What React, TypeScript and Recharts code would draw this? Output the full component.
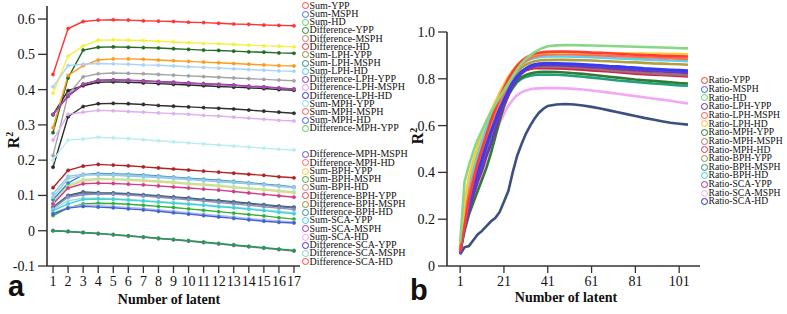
import React from 'react';
import { LineChart, Line, XAxis, YAxis } from 'recharts';

// ---------- Panel a ----------
const latentA = [1, 2, 3, 4, 5, 6, 7, 8, 9, 10, 11, 12, 13, 14, 15, 16, 17];
const ticksAY = [-0.1, 0, 0.1, 0.2, 0.3, 0.4, 0.5, 0.6];

const legendNamesA1 = [
  'Sum-YPP', 'Sum-MSPH', 'Sum-HD', 'Difference-YPP', 'Difference-MSPH', 'Difference-HD',
  'Sum-LPH-YPP', 'Sum-LPH-MSPH', 'Sum-LPH-HD', 'Difference-LPH-YPP', 'Difference-LPH-MSPH',
  'Difference-LPH-HD', 'Sum-MPH-YPP', 'Sum-MPH-MSPH', 'Sum-MPH-HD', 'Difference-MPH-YPP',
];
const legendNamesA2 = [
  'Difference-MPH-MSPH', 'Difference-MPH-HD', 'Sum-BPH-YPP', 'Sum-BPH-MSPH', 'Sum-BPH-HD',
  'Difference-BPH-YPP', 'Difference-BPH-MSPH', 'Difference-BPH-HD', 'Sum-SCA-YPP', 'Sum-SCA-MSPH',
  'Sum-SCA-HD', 'Difference-SCA-YPP', 'Difference-SCA-MSPH', 'Difference-SCA-HD',
];
const legendColorsA1 = [
  '#ff4040', '#4a68f0', '#58d058', '#238a23', '#c07878', '#e03050', '#8a8a30', '#2a8a8a',
  '#40c8f0', '#9030a0', '#f090f0', '#2828e0', '#80e0e0', '#ff5050', '#4060e0', '#50d050',
];
const legendColorsA2 = [
  '#6050c0', '#ff6060', '#ffc830', '#40a040', '#c08080', '#e04060', '#909030', '#309090',
  '#40c8f0', '#a030b0', '#f0a0f0', '#3030e0', '#80d0d0', '#ff4040',
];

// line values (panel a)
const a01 = [0.443, 0.573, 0.593, 0.597, 0.598, 0.597, 0.595, 0.594, 0.593, 0.591, 0.590, 0.588, 0.586, 0.585, 0.583, 0.582, 0.581];
const a02 = [0.390, 0.495, 0.524, 0.540, 0.541, 0.540, 0.539, 0.537, 0.535, 0.533, 0.531, 0.530, 0.528, 0.526, 0.524, 0.523, 0.521];
const a03 = [0.278, 0.433, 0.512, 0.520, 0.521, 0.520, 0.519, 0.518, 0.516, 0.514, 0.512, 0.511, 0.509, 0.507, 0.506, 0.504, 0.503];
const a04 = [0.329, 0.397, 0.411, 0.421, 0.422, 0.421, 0.419, 0.417, 0.415, 0.413, 0.411, 0.409, 0.407, 0.405, 0.403, 0.400, 0.398];
const a05 = [0.292, 0.440, 0.468, 0.484, 0.487, 0.487, 0.486, 0.484, 0.482, 0.480, 0.478, 0.476, 0.474, 0.472, 0.470, 0.468, 0.467];
const a06 = [0.213, 0.386, 0.436, 0.445, 0.447, 0.446, 0.445, 0.443, 0.441, 0.439, 0.437, 0.435, 0.433, 0.431, 0.429, 0.427, 0.425];
const a07 = [0.408, 0.468, 0.472, 0.474, 0.473, 0.472, 0.470, 0.469, 0.467, 0.465, 0.463, 0.461, 0.459, 0.457, 0.455, 0.453, 0.452];
const a08 = [0.329, 0.381, 0.414, 0.427, 0.428, 0.427, 0.425, 0.423, 0.421, 0.419, 0.417, 0.415, 0.413, 0.410, 0.408, 0.405, 0.402];
const a09 = [0.329, 0.384, 0.416, 0.426, 0.427, 0.426, 0.424, 0.422, 0.420, 0.418, 0.416, 0.414, 0.412, 0.409, 0.407, 0.404, 0.401];
const a10 = [0.180, 0.323, 0.352, 0.360, 0.361, 0.360, 0.358, 0.355, 0.353, 0.351, 0.349, 0.347, 0.345, 0.342, 0.339, 0.336, 0.333];
const a11 = [0.257, 0.330, 0.336, 0.341, 0.340, 0.338, 0.336, 0.334, 0.332, 0.330, 0.327, 0.325, 0.322, 0.319, 0.316, 0.313, 0.311];
const a12 = [0.200, 0.257, 0.260, 0.265, 0.263, 0.261, 0.258, 0.255, 0.252, 0.249, 0.246, 0.243, 0.240, 0.237, 0.234, 0.231, 0.229];
const a13 = [0.067, 0.100, 0.110, 0.108, 0.107, 0.105, 0.102, 0.099, 0.096, 0.093, 0.089, 0.086, 0.082, 0.078, 0.074, 0.070, 0.067];
const a14 = [0.122, 0.171, 0.183, 0.188, 0.186, 0.184, 0.181, 0.178, 0.175, 0.172, 0.169, 0.166, 0.163, 0.160, 0.157, 0.153, 0.150];
const a15 = [0.075, 0.125, 0.141, 0.145, 0.145, 0.143, 0.141, 0.138, 0.135, 0.132, 0.129, 0.126, 0.122, 0.119, 0.115, 0.111, 0.107];
const a16 = [0.081, 0.129, 0.145, 0.148, 0.147, 0.146, 0.144, 0.141, 0.138, 0.135, 0.132, 0.129, 0.125, 0.121, 0.118, 0.114, 0.110];
const a17 = [0.066, 0.098, 0.107, 0.106, 0.105, 0.103, 0.100, 0.097, 0.094, 0.091, 0.087, 0.084, 0.080, 0.076, 0.072, 0.068, 0.065];
const a18 = [0.076, 0.121, 0.133, 0.135, 0.134, 0.132, 0.130, 0.127, 0.124, 0.121, 0.118, 0.115, 0.111, 0.107, 0.103, 0.099, 0.095];
const a19 = [0.088, 0.135, 0.159, 0.162, 0.161, 0.160, 0.158, 0.155, 0.152, 0.149, 0.146, 0.143, 0.140, 0.136, 0.132, 0.128, 0.124];
const a20 = [0.105, 0.154, 0.160, 0.158, 0.157, 0.155, 0.153, 0.151, 0.148, 0.145, 0.142, 0.139, 0.136, 0.133, 0.130, 0.126, 0.122];
const a21 = [0.063, 0.095, 0.102, 0.104, 0.103, 0.101, 0.098, 0.095, 0.091, 0.088, 0.084, 0.080, 0.076, 0.072, 0.068, 0.064, 0.060];
const a22 = [0.060, 0.085, 0.092, 0.092, 0.091, 0.089, 0.086, 0.083, 0.080, 0.077, 0.074, 0.070, 0.067, 0.063, 0.059, 0.055, 0.051];
const a23 = [0.057, 0.076, 0.089, 0.090, 0.089, 0.087, 0.084, 0.081, 0.078, 0.075, 0.072, 0.068, 0.065, 0.061, 0.057, 0.052, 0.048];
const a24 = [0.043, 0.065, 0.076, 0.078, 0.077, 0.075, 0.072, 0.069, 0.066, 0.062, 0.058, 0.054, 0.050, 0.046, 0.042, 0.037, 0.033];
const a25 = [0.050, 0.066, 0.072, 0.071, 0.069, 0.066, 0.063, 0.059, 0.055, 0.051, 0.047, 0.043, 0.039, 0.035, 0.031, 0.028, 0.025];
const a26 = [0.048, 0.064, 0.069, 0.067, 0.065, 0.062, 0.059, 0.055, 0.051, 0.047, 0.043, 0.039, 0.035, 0.031, 0.027, 0.024, 0.022];
const a27 = [0.095, 0.148, 0.157, 0.160, 0.159, 0.158, 0.156, 0.153, 0.150, 0.147, 0.144, 0.141, 0.138, 0.134, 0.130, 0.126, 0.123];
const a28 = [0.000, -0.003, -0.006, -0.009, -0.012, -0.016, -0.019, -0.023, -0.026, -0.030, -0.034, -0.038, -0.042, -0.046, -0.050, -0.054, -0.058];
const a29 = [0.000, -0.002, -0.005, -0.008, -0.011, -0.015, -0.018, -0.022, -0.025, -0.029, -0.033, -0.037, -0.041, -0.045, -0.049, -0.053, -0.057];
const a30 = [0.000, -0.002, -0.005, -0.008, -0.011, -0.014, -0.018, -0.021, -0.025, -0.028, -0.032, -0.036, -0.040, -0.044, -0.048, -0.052, -0.056];

const lineColorsA = [
  '#ff3333', '#f5f040', '#1f6b24', '#262626', '#ff9a1a', '#a3a3a3', '#a8d4f8', '#8b2a8b',
  '#a050a8', '#2e2e2e', '#dcb0f0', '#b8eef0', '#2a5a78', '#b22222', '#f0d080', '#b8e8a0',
  '#607090', '#d03c8c', '#2b8cc4', '#88c8f0', '#9090c0', '#a0e0e0', '#40d0d8', '#30b030',
  '#b0b8f0', '#4060d0', '#9ecae1', '#e8a8e8', '#4a7a9a', '#2a9a4a',
];
const valuesA = [a01, a02, a03, a04, a05, a06, a07, a08, a09, a10, a11, a12, a13, a14, a15,
  a16, a17, a18, a19, a20, a21, a22, a23, a24, a25, a26, a27, a28, a29, a30];
const namesA = [...legendNamesA1, ...legendNamesA2];

// ---------- Panel b ----------
const latentB = [1, 3, 5, 7, 9, 11, 13, 15, 17, 19, 21, 23, 25, 27, 29, 31, 33, 35, 37, 39, 41,
  45, 49, 53, 57, 61, 65, 69, 73, 77, 81, 85, 89, 93, 97, 101, 105];
const ticksBX = [1, 21, 41, 61, 81, 101];
const ticksBY = [0, 0.2, 0.4, 0.6, 0.8, 1.0];

const namesB = [
  'Ratio-YPP', 'Ratio-MSPH', 'Ratio-HD', 'Ratio-LPH-YPP', 'Ratio-LPH-MSPH', 'Ratio-LPH-HD',
  'Ratio-MPH-YPP', 'Ratio-MPH-MSPH', 'Ratio-MPH-HD', 'Ratio-BPH-YPP', 'Ratio-BPH-MSPH',
  'Ratio-BPH-HD', 'Ratio-SCA-YPP', 'Ratio-SCA-MSPH', 'Ratio-SCA-HD',
];
const legendColorsB = [
  '#ff3030', '#3060ff', '#60d060', '#6030a0', '#ff5050', '#ffc820', '#208030', '#b07070',
  '#e03060', '#909040', '#209090', '#30d0f0', '#a030b0', '#f8a8f8', '#2020f0',
];
const lineColorsB = [
  '#ff3b3b', '#3a3af0', '#86d886', '#7a30b0', '#ff7050', '#ffc830', '#2e7d32', '#a07070',
  '#d02050', '#b0a040', '#20a080', '#5bd0f0', '#3a5080', '#f2a8f2', '#4848e0',
];

const bYPP = [0.06, 0.17, 0.28, 0.36, 0.44, 0.50, 0.56, 0.62, 0.67, 0.72, 0.76, 0.80, 0.83, 0.855, 0.875, 0.89, 0.90, 0.907, 0.911, 0.914, 0.915,
  0.916, 0.916, 0.915, 0.914, 0.912, 0.911, 0.909, 0.907, 0.905, 0.903, 0.901, 0.900, 0.898, 0.897, 0.896, 0.895];
const bMSPH = [0.06, 0.20, 0.27, 0.34, 0.40, 0.46, 0.52, 0.57, 0.62, 0.67, 0.71, 0.75, 0.785, 0.81, 0.83, 0.845, 0.856, 0.862, 0.865, 0.866, 0.866,
  0.866, 0.865, 0.864, 0.862, 0.860, 0.858, 0.855, 0.853, 0.850, 0.848, 0.845, 0.843, 0.841, 0.839, 0.837, 0.835];
const bHD = [0.10, 0.36, 0.43, 0.49, 0.54, 0.58, 0.62, 0.655, 0.69, 0.72, 0.75, 0.78, 0.81, 0.84, 0.865, 0.885, 0.90, 0.914, 0.925, 0.933, 0.939,
  0.943, 0.944, 0.944, 0.943, 0.942, 0.941, 0.940, 0.939, 0.938, 0.937, 0.936, 0.935, 0.934, 0.933, 0.931, 0.930];
const bLPHYPP = [0.06, 0.16, 0.23, 0.30, 0.36, 0.41, 0.47, 0.52, 0.58, 0.64, 0.69, 0.73, 0.77, 0.80, 0.822, 0.838, 0.848, 0.854, 0.857, 0.858, 0.858,
  0.858, 0.857, 0.855, 0.853, 0.850, 0.848, 0.845, 0.842, 0.840, 0.837, 0.835, 0.833, 0.831, 0.829, 0.827, 0.825];
const bLPHMSPH = [0.07, 0.21, 0.31, 0.38, 0.44, 0.50, 0.56, 0.61, 0.66, 0.70, 0.74, 0.78, 0.81, 0.84, 0.862, 0.877, 0.888, 0.895, 0.900, 0.903, 0.904,
  0.905, 0.905, 0.904, 0.903, 0.902, 0.900, 0.899, 0.897, 0.895, 0.894, 0.892, 0.891, 0.889, 0.888, 0.886, 0.885];
const bLPHHD = [0.09, 0.27, 0.38, 0.45, 0.51, 0.57, 0.62, 0.66, 0.70, 0.74, 0.775, 0.81, 0.835, 0.86, 0.877, 0.89, 0.899, 0.905, 0.909, 0.911, 0.912,
  0.912, 0.912, 0.912, 0.911, 0.911, 0.910, 0.910, 0.909, 0.909, 0.908, 0.908, 0.907, 0.907, 0.906, 0.906, 0.905];
const bMPHYPP = [0.06, 0.15, 0.22, 0.27, 0.32, 0.37, 0.42, 0.48, 0.55, 0.62, 0.68, 0.73, 0.765, 0.79, 0.806, 0.817, 0.823, 0.827, 0.829, 0.830, 0.830,
  0.829, 0.827, 0.824, 0.821, 0.817, 0.813, 0.809, 0.805, 0.801, 0.797, 0.794, 0.791, 0.788, 0.785, 0.782, 0.780];
const bMPHMSPH = [0.07, 0.20, 0.29, 0.36, 0.42, 0.48, 0.54, 0.59, 0.64, 0.69, 0.73, 0.77, 0.80, 0.82, 0.834, 0.843, 0.848, 0.851, 0.852, 0.852, 0.852,
  0.851, 0.850, 0.848, 0.846, 0.843, 0.840, 0.837, 0.834, 0.831, 0.828, 0.826, 0.823, 0.821, 0.819, 0.817, 0.815];
const bMPHHD = [0.08, 0.18, 0.27, 0.33, 0.39, 0.46, 0.52, 0.57, 0.62, 0.67, 0.71, 0.75, 0.78, 0.805, 0.825, 0.836, 0.842, 0.845, 0.845, 0.845, 0.845,
  0.844, 0.843, 0.841, 0.839, 0.836, 0.834, 0.831, 0.828, 0.825, 0.822, 0.820, 0.818, 0.816, 0.814, 0.812, 0.810];
const bBPHYPP = [0.07, 0.22, 0.33, 0.40, 0.46, 0.51, 0.56, 0.61, 0.66, 0.70, 0.74, 0.78, 0.81, 0.83, 0.848, 0.86, 0.869, 0.875, 0.878, 0.880, 0.880,
  0.881, 0.881, 0.880, 0.879, 0.878, 0.876, 0.875, 0.873, 0.871, 0.870, 0.868, 0.866, 0.865, 0.863, 0.862, 0.860];
const bBPHMSPH = [0.06, 0.17, 0.25, 0.31, 0.37, 0.43, 0.49, 0.55, 0.60, 0.65, 0.69, 0.73, 0.76, 0.785, 0.80, 0.808, 0.813, 0.816, 0.818, 0.818, 0.818,
  0.817, 0.815, 0.812, 0.809, 0.805, 0.801, 0.797, 0.793, 0.790, 0.786, 0.783, 0.780, 0.778, 0.775, 0.772, 0.770];
const bBPHHD = [0.08, 0.24, 0.34, 0.42, 0.48, 0.54, 0.59, 0.64, 0.68, 0.72, 0.76, 0.79, 0.82, 0.845, 0.862, 0.875, 0.883, 0.889, 0.892, 0.894, 0.895,
  0.895, 0.895, 0.894, 0.893, 0.892, 0.890, 0.889, 0.887, 0.886, 0.884, 0.883, 0.881, 0.880, 0.878, 0.877, 0.875];
const bSCAYPP = [0.05, 0.08, 0.085, 0.11, 0.135, 0.15, 0.17, 0.19, 0.205, 0.23, 0.275, 0.32, 0.40, 0.47, 0.52, 0.565, 0.60, 0.63, 0.655, 0.672, 0.684,
  0.690, 0.692, 0.690, 0.686, 0.680, 0.673, 0.665, 0.657, 0.649, 0.641, 0.633, 0.626, 0.619, 0.612, 0.608, 0.604];
const bSCAMSPH = [0.08, 0.16, 0.22, 0.28, 0.34, 0.40, 0.46, 0.51, 0.56, 0.61, 0.65, 0.685, 0.71, 0.73, 0.742, 0.75, 0.755, 0.758, 0.759, 0.760, 0.760,
  0.760, 0.759, 0.757, 0.754, 0.750, 0.746, 0.741, 0.736, 0.731, 0.726, 0.721, 0.716, 0.711, 0.706, 0.700, 0.695];
const bSCAHD = [0.05, 0.18, 0.25, 0.32, 0.39, 0.45, 0.51, 0.57, 0.62, 0.67, 0.71, 0.75, 0.78, 0.805, 0.828, 0.843, 0.853, 0.859, 0.862, 0.862, 0.862,
  0.862, 0.861, 0.860, 0.858, 0.856, 0.853, 0.851, 0.848, 0.846, 0.843, 0.841, 0.838, 0.836, 0.834, 0.832, 0.830];
const valuesB = [bYPP, bMSPH, bHD, bLPHYPP, bLPHMSPH, bLPHHD, bMPHYPP, bMPHMSPH, bMPHHD,
  bBPHYPP, bBPHMSPH, bBPHHD, bSCAYPP, bSCAMSPH, bSCAHD];
// drawing order (back to front)
const orderB = [12, 13, 10, 6, 8, 7, 3, 14, 1, 9, 11, 4, 5, 0, 2];

const dataA = latentA.map((x, i) => {
  const row: Record<string, number> = { x };
  valuesA.forEach((v, j) => { row['s' + j] = v[i]; });
  return row;
});
const dataB = latentB.map((x, i) => {
  const row: Record<string, number> = { x };
  valuesB.forEach((v, j) => { row['r' + j] = v[i]; });
  return row;
});

const serif = "'Liberation Serif', 'DejaVu Serif', 'Times New Roman', Times, serif";
const sans = "'Liberation Sans', Arial, Helvetica, sans-serif";
const tickStyle = { fontSize: 14, fill: '#111', fontFamily: serif };
const axisLineStyle = { stroke: '#333', strokeWidth: 1.6 };
const fmtY = (v: number) => (v === 0 ? '0' : v.toFixed(1));

function LegendBlock({ names, colors, left, top, step, fontSize }: {
  names: string[]; colors: string[]; left: number; top: number; step: number; fontSize: number;
}) {
  return (
    <>
      {names.map((n, i) => (
        <div key={n} style={{
          position: 'absolute', left, top: top + i * step - step / 2, height: step,
          display: 'flex', alignItems: 'center', whiteSpace: 'nowrap', overflow: 'visible',
          fontFamily: serif, fontSize, color: '#111', lineHeight: `${step}px`,
        }}>
          <span style={{
            display: 'inline-block', width: 5, height: 5, borderRadius: '50%', flex: 'none',
            border: `1.2px solid ${colors[i]}`, marginRight: 0.5, background: 'transparent',
          }} />
          <span style={{ display: 'block', height: step, lineHeight: `${step}px`, overflow: 'visible' }}>{n}</span>
        </div>
      ))}
    </>
  );
}

export default function App() {
  return (
    <div style={{ position: 'absolute', left: 0, top: 0, width: 787, height: 314, background: '#fff', overflow: 'hidden', fontFamily: serif }}>
      {/* Panel a */}
      <div style={{ position: 'absolute', left: 0, top: 0 }}>
        <LineChart width={310} height={314} data={dataA} margin={{ top: 6, right: 10, left: 0, bottom: 0 }}>
          <XAxis dataKey="x" type="number" domain={[0.6, 17.4]} ticks={latentA} interval={0}
            allowDataOverflow tick={tickStyle} tickSize={7} tickMargin={3} height={48}
            axisLine={axisLineStyle} tickLine={{ stroke: '#333', strokeWidth: 1.3 }} />
          <XAxis xAxisId="top" orientation="top" type="number" domain={[0.6, 17.4]} height={0}
            tick={false} tickLine={false} axisLine={axisLineStyle} />
          <YAxis type="number" domain={[-0.1, 0.637]} ticks={ticksAY} allowDataOverflow interval={0}
            tickFormatter={fmtY} tick={tickStyle} tickSize={9} tickMargin={3} width={47}
            axisLine={axisLineStyle} tickLine={{ stroke: '#333', strokeWidth: 1.3 }} />
          <YAxis yAxisId="right" orientation="right" type="number" domain={[-0.1, 0.637]} width={0}
            tick={false} tickLine={false} axisLine={axisLineStyle} />
          {valuesA.map((_, j) => (
            <Line key={j} dataKey={'s' + j} name={namesA[j]} stroke={lineColorsA[j]} strokeWidth={1.4}
              dot={{ r: 1.6, fill: lineColorsA[j], stroke: lineColorsA[j], strokeWidth: 0.6 }}
              isAnimationActive={false} />
          ))}
        </LineChart>
      </div>
      <LegendBlock names={legendNamesA1} colors={legendColorsA1} left={302} top={6} step={8.15} fontSize={10} />
      <LegendBlock names={legendNamesA2} colors={legendColorsA2} left={302} top={154.5} step={8.25} fontSize={10} />

      {/* Panel b */}
      <div style={{ position: 'absolute', left: 400, top: 0 }}>
        <LineChart width={310} height={314} data={dataB} margin={{ top: 32, right: 10, left: 0, bottom: 0 }}>
          <XAxis dataKey="x" type="number" domain={[-5, 110.5]} ticks={ticksBX} interval={0}
            allowDataOverflow tick={tickStyle} tickSize={7} tickMargin={3} height={48}
            axisLine={axisLineStyle} tickLine={{ stroke: '#333', strokeWidth: 1.3 }} />
          <XAxis xAxisId="top" orientation="top" type="number" domain={[-5, 110.5]} height={0}
            tick={false} tickLine={false} axisLine={axisLineStyle} />
          <YAxis type="number" domain={[0, 1]} ticks={ticksBY} allowDataOverflow interval={0}
            tickFormatter={fmtY} tick={tickStyle} tickSize={9} tickMargin={3} width={47}
            axisLine={axisLineStyle} tickLine={{ stroke: '#333', strokeWidth: 1.3 }} />
          <YAxis yAxisId="right" orientation="right" type="number" domain={[0, 1]} width={0}
            tick={false} tickLine={false} axisLine={axisLineStyle} />
          {orderB.map((j) => (
            <Line key={j} dataKey={'r' + j} name={namesB[j]} stroke={lineColorsB[j]} strokeWidth={2.6}
              dot={false} isAnimationActive={false} />
          ))}
        </LineChart>
      </div>
      <LegendBlock names={namesB} colors={legendColorsB} left={701} top={80.7} step={8.64} fontSize={9.6} />

      {/* Axis titles and panel letters */}
      <div style={{ position: 'absolute', left: 12, top: 140, transform: 'translate(-50%,-50%) rotate(-90deg)',
        fontFamily: serif, fontWeight: 'bold', fontSize: 16, lineHeight: '16px', whiteSpace: 'nowrap', color: '#111' }}>
        R<sup style={{ fontSize: 10 }}>2</sup>
      </div>
      <div style={{ position: 'absolute', left: 416, top: 136, transform: 'translate(-50%,-50%) rotate(-90deg)',
        fontFamily: serif, fontWeight: 'bold', fontSize: 16, lineHeight: '16px', whiteSpace: 'nowrap', color: '#111' }}>
        R<sup style={{ fontSize: 10 }}>2</sup>
      </div>
      <div style={{ position: 'absolute', left: 169, top: 300, transform: 'translate(-50%,-50%)',
        fontFamily: serif, fontWeight: 'bold', fontSize: 14, whiteSpace: 'nowrap', color: '#111' }}>
        Number of latent
      </div>
      <div style={{ position: 'absolute', left: 566, top: 298, transform: 'translate(-50%,-50%)',
        fontFamily: serif, fontWeight: 'bold', fontSize: 14, whiteSpace: 'nowrap', color: '#111' }}>
        Number of latent
      </div>
      <div style={{ position: 'absolute', left: 8, top: 272, fontFamily: sans,
        fontWeight: 'bold', fontSize: 29, lineHeight: '29px', color: '#111' }}>a</div>
      <div style={{ position: 'absolute', left: 410, top: 276, fontFamily: sans,
        fontWeight: 'bold', fontSize: 29, lineHeight: '29px', color: '#111' }}>b</div>
    </div>
  );
}
